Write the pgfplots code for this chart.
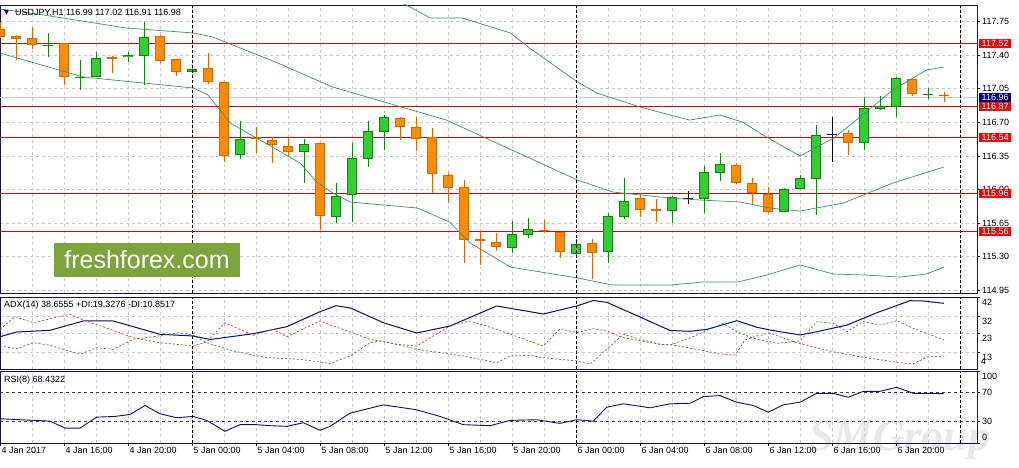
\documentclass[border=0pt]{standalone}
\usepackage{pgfplots}
\pgfplotsset{compat=1.18}
\usepackage{pgfplotstable}
\usepackage{fontspec}
\setmainfont{Liberation Sans}
\newfontfamily\dejavu{DejaVu Sans}
\newfontfamily\wmserif{Liberation Serif}
\definecolor{frame}{RGB}{20,20,60}
\definecolor{gridc}{RGB}{200,200,200}
\definecolor{bullfill}{RGB}{50,205,50}
\definecolor{bullline}{RGB}{25,125,25}
\definecolor{bearfill}{RGB}{255,140,0}
\definecolor{bearline}{RGB}{215,105,0}
\definecolor{band}{RGB}{70,140,115}
\definecolor{lvl}{RGB}{200,10,10}
\definecolor{lblred}{RGB}{230,10,10}
\definecolor{navybox}{RGB}{0,0,128}
\definecolor{adxc}{RGB}{15,15,100}
\definecolor{pdic}{RGB}{60,125,60}
\definecolor{mdic}{RGB}{165,70,50}
\definecolor{ffgreen}{RGB}{125,163,60}
\newcommand\lab{\fontsize{9}{10.8}\selectfont}

\pgfplotstableread{
i O H L C
3 117.496 117.628 117.385 117.507
5 117.159 117.350 117.037 117.169
6 117.176 117.437 117.169 117.368
8 117.378 117.437 117.333 117.402
9 117.392 117.750 117.089 117.587
12 117.221 117.263 117.218 117.253
15 116.356 116.717 116.314 116.523
19 116.394 116.523 116.064 116.474
21 115.716 116.064 115.646 115.932
22 115.938 116.481 115.664 116.328
23 116.314 116.717 116.231 116.610
24 116.596 116.776 116.411 116.752
32 115.386 115.674 115.333 115.532
33 115.525 115.699 115.490 115.584
36 115.323 115.480 115.316 115.427
38 115.344 115.751 115.229 115.723
39 115.709 116.116 115.695 115.879
42 115.779 115.932 115.653 115.925
44 115.904 116.245 115.758 116.178
45 116.168 116.377 116.092 116.265
49 115.768 116.012 115.765 116.001
50 116.005 116.151 116.001 116.116
51 116.105 116.672 115.733 116.568
54 116.488 116.968 116.411 116.846
55 116.836 116.978 116.829 116.874
56 116.856 117.169 116.759 117.159
58 116.992 117.055 116.940 116.999
}\bull

\pgfplotstableread{
i O H L C
0 117.670 117.750 117.576 117.587
1 117.600 117.611 117.350 117.566
2 117.576 117.698 117.461 117.507
4 117.524 117.531 117.089 117.169
7 117.378 117.392 117.211 117.364
10 117.600 117.611 117.315 117.343
11 117.357 117.357 117.183 117.228
13 117.263 117.427 117.100 117.124
14 117.117 117.124 116.290 116.349
16 116.544 116.648 116.377 116.530
17 116.516 116.544 116.279 116.460
18 116.453 116.533 116.335 116.387
20 116.481 116.488 115.577 115.726
25 116.742 116.752 116.516 116.655
26 116.648 116.759 116.404 116.523
27 116.544 116.637 115.966 116.161
28 116.151 116.168 115.855 116.012
29 116.022 116.098 115.236 115.473
30 115.483 115.577 115.212 115.462
31 115.448 115.549 115.361 115.396
34 115.577 115.681 115.542 115.566
35 115.553 115.560 115.281 115.351
37 115.438 115.483 115.062 115.333
40 115.907 115.966 115.709 115.786
41 115.796 115.897 115.664 115.775
46 116.255 116.272 116.057 116.064
47 116.064 116.116 115.848 115.959
48 115.952 116.022 115.758 115.761
53 116.585 116.620 116.359 116.481
57 117.148 117.152 116.978 116.995
59 116.990 117.020 116.910 116.980
}\bear

\pgfplotstableread{
i O H L C
43 115.907 115.987 115.848 115.907
52 116.575 116.752 116.290 116.575
}\doji

\pgfplotstableread{
x y
24.8 117.976
26.9 117.788
28.9 117.788
31.9 117.632
33.1 117.475
36.1 117.121
37.3 117.006
40.0 116.860
41.9 116.776
43.1 116.724
45.0 116.776
46.4 116.703
47.9 116.547
50.0 116.349
52.1 116.536
53.75 116.755
55.8 117.037
57.9 117.246
59.0 117.277
}\bbup

\pgfplotstableread{
x y
0 117.882
2.7 117.820
7.9 117.684
12.1 117.632
13.3 117.590
17.2 117.330
20.8 117.068
27.9 116.724
36.1 116.098
38.3 115.973
41.9 115.910
43.75 115.890
46.25 115.869
48.1 115.806
50.0 115.775
52.7 115.858
55.8 116.067
59.0 116.234
}\bbmid

\pgfplotstableread{
x y
0 117.423
5.2 117.173
12.1 117.058
13.0 116.985
14.4 116.693
18.75 116.276
19.8 116.077
20.8 115.963
21.9 115.869
26.1 115.806
28.1 115.660
29.4 115.441
31.9 115.191
36.1 115.076
38.3 115.003
41.9 115.003
43.9 115.034
46.1 115.034
47.9 115.107
50.0 115.212
52.1 115.118
54.2 115.107
56.25 115.086
57.9 115.118
59.0 115.191
}\bblow

\pgfplotstableread{
x y
0 21.05
1.04 23.53
3.13 24.43
5.21 29.34
7.08 29.34
10.0 22.32
12.08 21.42
13.13 19.57
15.83 22.63
17.92 26.33
20.0 34.24
21.0 37.4
21.9 36.2
23.96 28.44
26.04 23.0
28.13 26.70
31.04 37.25
33.96 33.03
36.04 37.25
37.08 40.15
37.92 39.20
40.0 31.45
41.88 24.32
43.13 23.90
44.19 24.95
46.06 29.49
47.31 26.01
48.13 24.59
50.0 21.95
51.06 23.69
52.94 27.22
54.81 33.72
56.88 40.05
57.69 39.89
59 38.66
}\adx

\pgfplotstableread{
x y
0 16.14
1.04 14.72
2.08 17.88
3.13 16.51
5.0 11.76
6.04 15.25
7.08 14.40
8.33 19.68
9.58 21.05
11.25 23.16
12.08 21.79
12.92 17.88
14.58 13.50
16.67 9.97
18.75 9.12
20.63 6.91
21.88 10.87
23.13 17.88
23.75 18.78
24.79 17.04
26.04 14.40
28.96 10.87
31.04 7.33
31.88 10.87
33.13 11.23
33.96 9.97
36.04 8.23
36.88 6.49
37.92 14.40
38.96 22.32
40.0 19.68
41.25 17.04
41.88 16.67
43.13 20.36
45.19 28.12
46.06 23.69
47.06 20.21
48.56 17.57
50.0 18.78
51.06 28.97
52.06 28.12
52.94 23.69
53.94 28.97
55.0 27.22
56.06 29.49
57.06 25.48
59 19.33
}\pdi

\pgfplotstableread{
x y
0 24.95
0.94 31.60
2.08 28.44
4.38 32.87
5.21 29.86
6.88 24.95
8.33 20.52
10.0 17.88
12.08 16.14
12.92 18.25
14.06 28.44
15.83 21.79
17.08 24.95
17.92 21.05
20.0 29.34
20.63 27.33
23.13 19.68
24.79 17.04
26.04 16.14
28.13 26.70
29.38 29.34
31.04 24.95
33.96 16.14
35.0 25.27
36.04 23.16
37.08 25.27
37.92 24.06
38.96 20.52
41.25 17.04
42.06 16.67
43.75 14.03
45.0 11.92
45.94 11.39
46.56 19.31
47.31 21.42
48.13 23.0
49.56 18.41
52.06 13.13
53.75 10.50
55.81 7.86
57.06 6.64
57.94 10.34
59 10.85
}\mdi

\pgfplotstableread{
x y
0 33.72
1.25 32.34
3.13 30.41
4.06 20.76
5.0 20.76
6.04 35.93
7.19 36.90
8.13 39.66
9.06 52.07
10.0 40.62
11.04 35.10
12.08 36.90
12.92 31.38
14.06 16.21
15.0 25.45
16.04 25.45
16.88 24.07
17.92 23.10
18.96 28.21
20.0 17.59
20.63 23.10
21.88 41.45
23.96 53.03
26.04 46.14
27.5 36.90
28.96 25.45
30.63 24.07
31.88 31.38
33.54 32.34
35.0 27.24
36.04 32.34
37.08 30.41
37.92 49.72
38.96 54.41
40.63 48.90
41.88 54.41
43.13 55.24
43.96 64.48
45.0 65.86
46.04 56.62
47.08 52.07
48.02 42.83
48.96 53.03
50.0 56.62
51.04 69.03
52.08 69.03
53.02 63.52
53.96 71.79
55.0 71.79
56.04 77.31
57.08 69.03
58.13 69.03
59 68.43
}\rsi

\pgfplotsset{
  panel/.style={scale only axis, width=977pt, xmin=0, xmax=61.0625,
    axis line style={draw=frame, line width=0.8pt},
    clip mode=individual,
    tick align=outside, major tick length=3pt,
    ytick pos=right, yticklabel pos=right,
    ytick style={draw=frame, line width=0.6pt},
    yticklabel style={font=\lab, anchor=west, inner sep=0pt, xshift=2pt},
    grid style={gridc, dash pattern=on 3pt off 3pt, line width=0.6pt}},
  wick/.style={draw=none, mark=none, forget plot,
    error bars/y dir=minus, error bars/y explicit, error bars/error mark=none,
    error bars/error bar style={draw=#1, line width=1pt, solid}},
  body/.style 2 args={draw=none, mark=none, forget plot,
    error bars/y dir=minus, error bars/y explicit, error bars/error mark=none,
    error bars/error bar style={draw=#1, line width=#2, solid}},
  sep/.style={black, dash pattern=on 3pt off 2pt, line width=0.7pt, forget plot},
}

\begin{document}
\begin{tikzpicture}[x=1pt,y=1pt]
\useasboundingbox (0,0) rectangle (1019,467);
\fill[white] (0,0) rectangle (1019,467);
\node[text=gray!18, font=\wmserif\fontsize{44}{46}\selectfont\bfseries\itshape, inner sep=0] at (900,26) {SMGroup};

% ---------------- main price panel
\begin{axis}[panel, at={(0pt,462pt)}, anchor=north west, height=288pt,
  ymin=114.92, ymax=117.924,
  xtick={0,2,...,60}, xticklabels={}, xtick style={draw=none},
  xmajorgrids, ymajorgrids,
  ytick={114.95,115.30,115.65,116.00,116.35,116.70,117.05,117.40,117.75},
  yticklabels={114.95,115.30,115.65,116.00,116.35,116.70,117.05,117.40,117.75}]
\addplot[gray!40, line width=0.8pt, forget plot] coordinates {(0,116.96) (61.0625,116.96)};
\addplot[lvl, line width=1pt, forget plot] coordinates {(0,117.52) (61.0625,117.52)};
\addplot[lvl, line width=1pt, forget plot] coordinates {(0,116.87) (61.0625,116.87)};
\addplot[lvl, line width=1pt, forget plot] coordinates {(0,116.54) (61.0625,116.54)};
\addplot[lvl, line width=1pt, forget plot] coordinates {(0,115.96) (61.0625,115.96)};
\addplot[lvl, line width=1pt, forget plot] coordinates {(0,115.56) (61.0625,115.56)};
% wicks
\addplot[wick=bullline] table[x=i, y=H, y error minus expr=\thisrow{H}-\thisrow{L}] {\bull};
\addplot[wick=bearline] table[x=i, y=H, y error minus expr=\thisrow{H}-\thisrow{L}] {\bear};
\addplot[wick=black] table[x=i, y=H, y error minus expr=\thisrow{H}-\thisrow{L}] {\doji};
% bodies
\addplot[body={bullline}{10pt}] table[x=i, y expr={max(\thisrow{O},\thisrow{C})}, y error minus expr={max(abs(\thisrow{O}-\thisrow{C}),0.011)}] {\bull};
\addplot[body={bullfill}{8pt}] table[x=i, y expr={max(\thisrow{O},\thisrow{C})-0.0104}, y error minus expr={max(abs(\thisrow{O}-\thisrow{C})-0.0208,0)}] {\bull};
\addplot[body={bearline}{10pt}] table[x=i, y expr={max(\thisrow{O},\thisrow{C})}, y error minus expr={max(abs(\thisrow{O}-\thisrow{C}),0.011)}] {\bear};
\addplot[body={bearfill}{8pt}] table[x=i, y expr={max(\thisrow{O},\thisrow{C})-0.0104}, y error minus expr={max(abs(\thisrow{O}-\thisrow{C})-0.0208,0)}] {\bear};
\addplot[only marks, mark=-, mark size=5pt, black, mark options={line width=1pt}, forget plot] table[x=i, y=C] {\doji};
% bands
\addplot[band, line width=0.7pt, forget plot] table {\bbup};
\addplot[band, line width=0.7pt, forget plot] table {\bbmid};
\addplot[band, line width=0.7pt, forget plot] table {\bblow};
% separators
\addplot[sep] coordinates {(12,114.92) (12,117.924)};
\addplot[sep] coordinates {(36,114.92) (36,117.924)};
\addplot[sep] coordinates {(60,114.92) (60,117.924)};
% price boxes
\node[anchor=west, fill=lblred, text=white, font=\lab, inner xsep=2.5pt, inner ysep=1.3pt, xshift=2pt] at (axis cs:61.0625,117.52) {117.52};
\node[anchor=west, fill=lblred, text=white, font=\lab, inner xsep=2.5pt, inner ysep=1.3pt, xshift=2pt] at (axis cs:61.0625,116.87) {116.87};
\node[anchor=west, fill=navybox, text=white, font=\lab, inner xsep=2.5pt, inner ysep=1.3pt, xshift=2pt] at (axis cs:61.0625,116.96) {116.96};
\node[anchor=west, fill=lblred, text=white, font=\lab, inner xsep=2.5pt, inner ysep=1.3pt, xshift=2pt] at (axis cs:61.0625,116.54) {116.54};
\node[anchor=west, fill=lblred, text=white, font=\lab, inner xsep=2.5pt, inner ysep=1.3pt, xshift=2pt] at (axis cs:61.0625,115.96) {115.96};
\node[anchor=west, fill=lblred, text=white, font=\lab, inner xsep=2.5pt, inner ysep=1.3pt, xshift=2pt] at (axis cs:61.0625,115.56) {115.56};
\end{axis}

% ---------------- ADX panel
\begin{axis}[panel, at={(0pt,170pt)}, anchor=north west, height=72pt,
  ymin=4, ymax=42,
  xtick={0,2,...,60}, xticklabels={}, xtick style={draw=none},
  xmajorgrids, ymajorgrids,
  ytick={13,23,32,42}, yticklabels={13,23,32,42},
  yticklabel style={anchor=north west, yshift=-2.5pt}]
\addplot[adxc, line width=1pt, forget plot] table {\adx};
\addplot[pdic, line width=0.7pt, dash pattern=on 2pt off 2pt, forget plot] table {\pdi};
\addplot[mdic, line width=0.7pt, dash pattern=on 2pt off 2pt, forget plot] table {\mdi};
\addplot[sep] coordinates {(12,4) (12,42)};
\addplot[sep] coordinates {(36,4) (36,42)};
\addplot[sep] coordinates {(60,4) (60,42)};
\node[anchor=west, font=\lab, inner sep=0pt, xshift=4pt, yshift=8pt] at (axis cs:61.0625,4) {4};
\end{axis}

% ---------------- RSI panel
\begin{axis}[panel, at={(0pt,96pt)}, anchor=north west, height=72pt,
  ymin=0, ymax=100,
  xtick={0,4,...,56}, minor xtick={2,6,...,58},
  xmajorgrids, xminorgrids, minor grid style={gridc, dash pattern=on 3pt off 3pt, line width=0.6pt},
  xtick pos=left, minor tick length=0pt, major tick length=3pt,
  xtick style={draw=frame, line width=0.6pt},
  xticklabels={4 Jan 2017,4 Jan 16:00,4 Jan 20:00,5 Jan 00:00,5 Jan 04:00,5 Jan 08:00,5 Jan 12:00,5 Jan 16:00,5 Jan 20:00,6 Jan 00:00,6 Jan 04:00,6 Jan 08:00,6 Jan 12:00,6 Jan 16:00,6 Jan 20:00},
  xticklabel style={font=\lab, anchor=north west, inner sep=0pt, xshift=1.5pt, yshift=-1.5pt},
  ytick={0,30,70,100}, yticklabels={,30,70,}]
\addplot[black!75, dash pattern=on 3pt off 3pt, line width=0.6pt, forget plot] coordinates {(0,70) (61.0625,70)};
\addplot[black!75, dash pattern=on 3pt off 3pt, line width=0.6pt, forget plot] coordinates {(0,30) (61.0625,30)};
\addplot[adxc, line width=0.9pt, forget plot] table {\rsi};
\addplot[sep] coordinates {(12,0) (12,100)};
\addplot[sep] coordinates {(36,0) (36,100)};
\addplot[sep] coordinates {(60,0) (60,100)};
\node[anchor=north west, font=\lab, inner sep=0pt, xshift=5pt, yshift=-2.5pt] at (axis cs:61.0625,100) {100};
\node[anchor=south west, font=\lab, inner sep=0pt, xshift=5pt, yshift=2.5pt] at (axis cs:61.0625,0) {0};
\end{axis}

% ---------------- texts
\node[anchor=west, inner sep=0pt, font=\dejavu\fontsize{6.5}{7}\selectfont, text=navybox] at (4,454) {▼};
\node[anchor=west, inner sep=0pt, font=\lab] at (15,454) {USDJPY,H1 116.99 117.02 116.91 116.98};
\node[anchor=west, inner sep=0pt, font=\lab] at (4,162) {ADX(14) 38.6555 +DI:19.3276 -DI:10.8517};
\node[anchor=west, inner sep=0pt, font=\lab] at (4,87) {RSI(8) 68.4322};
\node[fill=ffgreen, text=white, minimum width=186pt, minimum height=34pt, inner sep=0pt, font=\fontsize{25}{28}\selectfont] at (147,207) {freshforex.com};
\end{tikzpicture}
\end{document}
